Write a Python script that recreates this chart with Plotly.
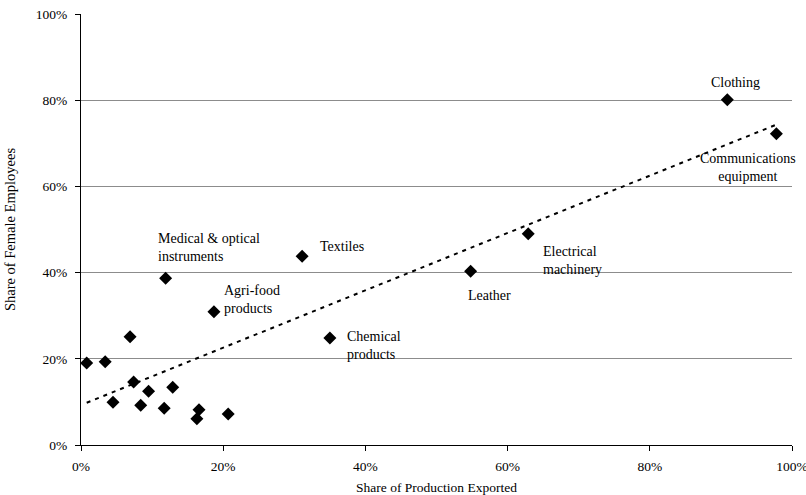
import numpy as np
import plotly.graph_objects as go

# Share of production exported (%), share of female employees (%)
export_share = [90.9, 97.8, 62.9, 54.8, 31.1, 11.9, 18.7, 35.0,
                0.8, 3.4, 6.9, 7.4, 4.5, 9.5, 8.4, 12.9, 11.7, 16.6, 16.3, 20.7]
female_share = [80.1, 72.2, 49.0, 40.3, 43.8, 38.7, 30.9, 24.8,
                19.0, 19.3, 25.1, 14.6, 9.9, 12.5, 9.2, 13.4, 8.5, 8.2, 6.1, 7.2]

labels = ["Clothing", "Communications<br>equipment", "Electrical<br>machinery", "Leather",
          "Textiles", "Medical & optical<br>instruments", "Agri-food<br>products",
          "Chemical<br>products"]
# label anchor points (data coords, %) and anchors
label_x = [92.1, 93.8, 64.65, 54.1, 33.3, 10.55, 19.9, 37.1]
label_y = [84.0, 64.5, 42.9, 34.6, 46.1, 45.8, 33.8, 23.1]
label_xanchor = ["center", "center", "left", "left", "left", "left", "left", "left"]

x_ticks = [0, 20, 40, 60, 80, 100]
y_ticks = [0, 20, 40, 60, 80, 100]

x = np.array(export_share) / 100
y = np.array(female_share) / 100
slope, intercept = np.polyfit(x, y, 1)
tx = np.array([x.min(), x.max()])
ty = slope * tx + intercept

serif = "Liberation Serif, Times New Roman, serif"
tickfont = dict(family=serif, size=13.5, color="black")

fig = go.Figure()
fig.add_trace(go.Scatter(x=tx, y=ty, mode="lines",
                         line=dict(color="black", width=2, dash="4px,5px"),
                         showlegend=False, hoverinfo="skip"))
fig.add_trace(go.Scatter(x=x, y=y, mode="markers",
                         marker=dict(symbol="diamond", size=10, color="black"),
                         showlegend=False))

for lx, ly, lt, xa in zip(label_x, label_y, labels, label_xanchor):
    fig.add_annotation(x=lx / 100, y=ly / 100, text=lt, showarrow=False,
                       xanchor=xa, yanchor="middle", align="left" if xa == "left" else "center",
                       font=dict(family=serif, size=14, color="black"))

fig.update_layout(
    width=806, height=495,
    margin=dict(l=81, r=14, t=14, b=49.5, autoexpand=False),
    paper_bgcolor="white", plot_bgcolor="white",
    font=dict(family=serif, size=13.5, color="black"),
    xaxis=dict(range=[0, 1], tickvals=[v / 100 for v in x_ticks],
               ticktext=[f"{v}%" for v in x_ticks], automargin=False,
               tickfont=tickfont, ticklabeloverflow="allow",
               showgrid=False, zeroline=False, showline=True, linecolor="black", linewidth=1,
               ticks="outside", ticklen=5, tickcolor="black", ticklabelstandoff=4,
               title=dict(text="Share of Production Exported",
                          font=dict(family=serif, size=13.5), standoff=9)),
    yaxis=dict(range=[0, 1], tickvals=[v / 100 for v in y_ticks],
               ticktext=[f"{v}%" for v in y_ticks], automargin=False,
               tickfont=tickfont, ticklabeloverflow="allow",
               showgrid=True, gridcolor="#8c8c8c", gridwidth=1, zeroline=False,
               showline=True, linecolor="black", linewidth=1,
               ticks="outside", ticklen=5, tickcolor="black", ticklabelstandoff=5,
               title=dict(text="Share of Female Employees",
                          font=dict(family=serif, size=14.5), standoff=16)),
)

fig.write_html("out.html", config={"displayModeBar": False},
               post_script="document.body.style.margin='0';document.body.style.padding='0';")
